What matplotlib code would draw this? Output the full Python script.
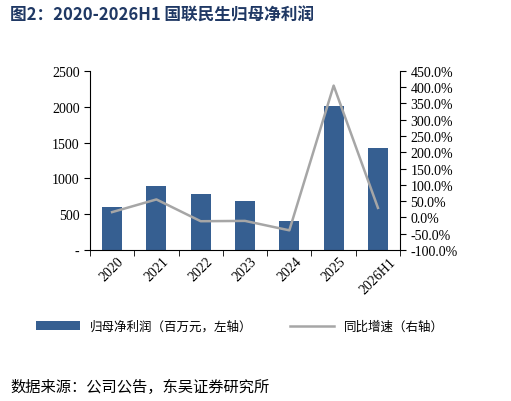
import matplotlib
matplotlib.use("Agg")
import matplotlib.pyplot as plt
import numpy as np
from matplotlib.ticker import FuncFormatter, FixedLocator

plt.rcParams['font.family'] = ['Liberation Serif', 'Noto Sans CJK SC']

categories = ['2020', '2021', '2022', '2023', '2024', '2025', '2026H1']
profit = [600, 895, 780, 685, 410, 2015, 1425]
growth = [16, 55, -12, -11, -40, 405, 29]

fig = plt.figure(figsize=(5.11, 4.02), dpi=100)
ax = fig.add_axes([0.176, 0.376, 0.607, 0.445])
x = np.arange(len(categories))
ax.bar(x, profit, width=0.45, color='#365F91', label='归母净利润（百万元，左轴）')
ax.set_ylim(0, 2500)
ax.set_yticks(range(0, 2501, 500))
ax.yaxis.set_major_formatter(FuncFormatter(lambda v, p: '-' if v == 0 else f'{int(v)}'))
ax.set_xlim(-0.5, len(categories) - 0.5)
ax.set_xticks(x)
ax.set_xticklabels(categories, rotation=45)
ax.tick_params(axis='x', length=0, labelsize=10)
ax.xaxis.set_minor_locator(FixedLocator(np.arange(-0.5, len(categories), 1)))
ax.tick_params(axis='x', which='minor', length=4, direction='out')
ax.tick_params(axis='y', labelsize=10, direction='out', length=4)
for s in ['top', 'right']:
    ax.spines[s].set_visible(False)

ax2 = ax.twinx()
ax2.plot(x, growth, color='#A6A6A6', lw=1.8, label='同比增速（右轴）')
ax2.set_ylim(-100, 450)
ax2.set_yticks(range(-100, 451, 50))
ax2.yaxis.set_major_formatter(FuncFormatter(lambda v, p: f'{v:.1f}%'))
ax2.tick_params(axis='y', labelsize=10, direction='out', length=4)
for s in ['top', 'left', 'bottom']:
    ax2.spines[s].set_visible(False)

h1, l1 = ax.get_legend_handles_labels()
h2, l2 = ax2.get_legend_handles_labels()
fig.legend(h1 + h2, l1 + l2, loc='center', bbox_to_anchor=(0.47, 0.185), ncol=2,
           frameon=False, handlelength=3.5, columnspacing=3,
           prop={'family': ['Noto Sans CJK SC'], 'size': 9})

fig.text(0.02, 0.96, '图2：2020-2026H1 国联民生归母净利润', fontsize=12, fontweight='bold',
         color='#1F3864', va='center', family=['Noto Sans CJK SC'])
fig.text(0.02, 0.035, '数据来源：公司公告，东吴证券研究所', fontsize=11,
         va='center', family=['Noto Sans CJK SC'])
fig.savefig('out.png', dpi=100)
